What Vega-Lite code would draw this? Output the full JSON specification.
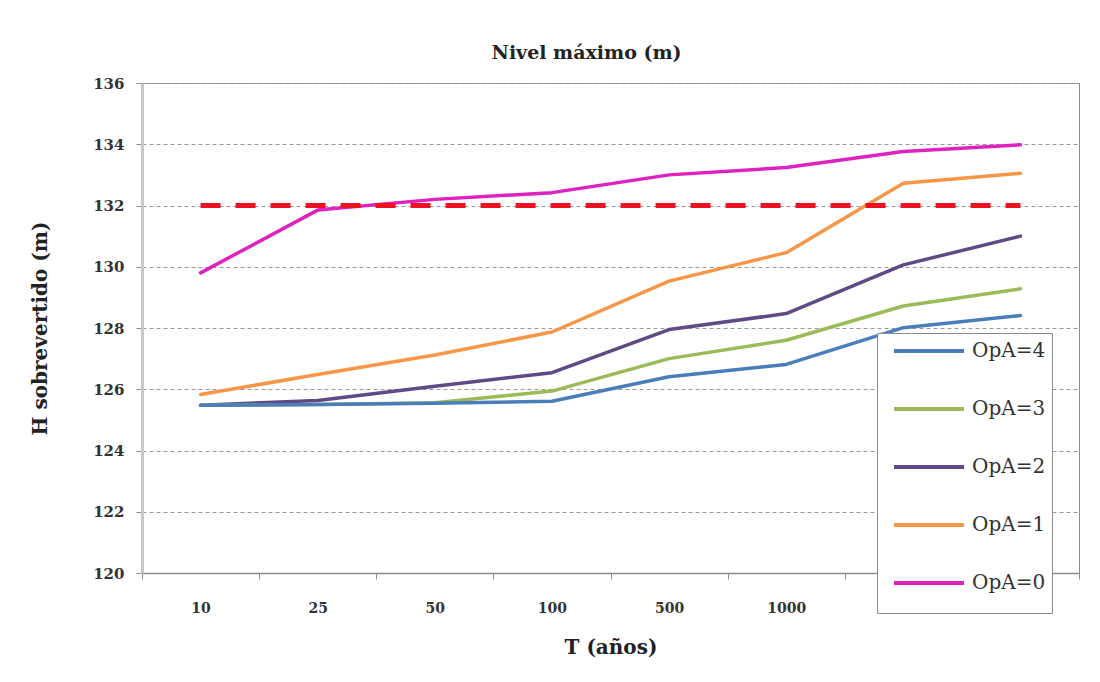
{
  "$schema": "https://vega.github.io/schema/vega-lite/v6.json",
  "autosize": {"type": "none"},
  "width": 937,
  "height": 490,
  "padding": {"left": 142, "top": 83, "right": 21, "bottom": 109},
  "background": "white",
  "title": {
    "text": "Nivel máximo (m)",
    "font": "DejaVu Serif",
    "fontSize": 19,
    "fontWeight": "bold",
    "color": "#222222",
    "anchor": "middle",
    "dx": -24,
    "offset": 13
  },
  "config": {
    "view": {"stroke": "#8c8c8c", "strokeWidth": 1},
    "axis": {"labelFont": "DejaVu Serif", "titleFont": "DejaVu Serif"}
  },
  "datasets": {
    "series": [
      {"T": "10", "OpA": "OpA=0", "H": 129.8},
      {"T": "25", "OpA": "OpA=0", "H": 131.85},
      {"T": "50", "OpA": "OpA=0", "H": 132.2},
      {"T": "100", "OpA": "OpA=0", "H": 132.42},
      {"T": "500", "OpA": "OpA=0", "H": 133.0},
      {"T": "1000", "OpA": "OpA=0", "H": 133.24},
      {"T": "5000", "OpA": "OpA=0", "H": 133.76},
      {"T": "10000", "OpA": "OpA=0", "H": 133.98},
      {"T": "10", "OpA": "OpA=1", "H": 125.83},
      {"T": "25", "OpA": "OpA=1", "H": 126.48},
      {"T": "50", "OpA": "OpA=1", "H": 127.12},
      {"T": "100", "OpA": "OpA=1", "H": 127.87},
      {"T": "500", "OpA": "OpA=1", "H": 129.53},
      {"T": "1000", "OpA": "OpA=1", "H": 130.46},
      {"T": "5000", "OpA": "OpA=1", "H": 132.73},
      {"T": "10000", "OpA": "OpA=1", "H": 133.05},
      {"T": "10", "OpA": "OpA=2", "H": 125.48},
      {"T": "25", "OpA": "OpA=2", "H": 125.63},
      {"T": "50", "OpA": "OpA=2", "H": 126.1},
      {"T": "100", "OpA": "OpA=2", "H": 126.54},
      {"T": "500", "OpA": "OpA=2", "H": 127.95},
      {"T": "1000", "OpA": "OpA=2", "H": 128.47},
      {"T": "5000", "OpA": "OpA=2", "H": 130.06},
      {"T": "10000", "OpA": "OpA=2", "H": 131.0},
      {"T": "10", "OpA": "OpA=3", "H": 125.48},
      {"T": "25", "OpA": "OpA=3", "H": 125.5},
      {"T": "50", "OpA": "OpA=3", "H": 125.56},
      {"T": "100", "OpA": "OpA=3", "H": 125.94},
      {"T": "500", "OpA": "OpA=3", "H": 127.0},
      {"T": "1000", "OpA": "OpA=3", "H": 127.6},
      {"T": "5000", "OpA": "OpA=3", "H": 128.72},
      {"T": "10000", "OpA": "OpA=3", "H": 129.28},
      {"T": "10", "OpA": "OpA=4", "H": 125.48},
      {"T": "25", "OpA": "OpA=4", "H": 125.5},
      {"T": "50", "OpA": "OpA=4", "H": 125.54},
      {"T": "100", "OpA": "OpA=4", "H": 125.61},
      {"T": "500", "OpA": "OpA=4", "H": 126.41},
      {"T": "1000", "OpA": "OpA=4", "H": 126.81},
      {"T": "5000", "OpA": "OpA=4", "H": 128.01},
      {"T": "10000", "OpA": "OpA=4", "H": 128.41}
    ],
    "limit": [
      {"T": "10", "H": 132},
      {"T": "10000", "H": 132}
    ]
  },
  "layer": [
    {
      "data": {"name": "series"},
      "mark": {"type": "line", "strokeWidth": 3.5, "strokeCap": "round", "strokeJoin": "round"},
      "encoding": {
        "x": {
          "field": "T",
          "type": "ordinal",
          "sort": ["10", "25", "50", "100", "500", "1000", "5000", "10000"],
          "bandPosition": 0.5,
          "scale": {"type": "band", "domain": ["10", "25", "50", "100", "500", "1000", "5000", "10000"], "paddingInner": 0, "paddingOuter": 0},
          "axis": {
            "title": "T (años)",
            "titleFontSize": 20,
            "titleFontWeight": "bold",
            "titleColor": "#222222",
            "titleY": 80,
            "titleBaseline": "alphabetic",
            "labelAngle": 0,
            "labelFontSize": 14,
            "labelFontWeight": "bold",
            "labelColor": "#333333",
            "labelPadding": 22,
            "tickBand": "extent",
            "tickSize": 6,
            "tickColor": "#8c8c8c",
            "domainColor": "#8c8c8c",
            "domainWidth": 1.5,
            "grid": false
          }
        },
        "y": {
          "field": "H",
          "type": "quantitative",
          "scale": {"domain": [120, 136], "nice": false, "zero": false},
          "axis": {
            "title": "H sobrevertido (m)",
            "titleFontSize": 20,
            "titleFontWeight": "bold",
            "titleColor": "#222222",
            "titleX": -102,
            "titleY": 245,
            "titleAngle": -90,
            "titleAlign": "center",
            "titleBaseline": "middle",
            "values": [120, 122, 124, 126, 128, 130, 132, 134, 136],
            "labelFontSize": 15,
            "labelFontWeight": "bold",
            "labelColor": "#333333",
            "labelPadding": 12,
            "tickSize": 6,
            "tickColor": "#8c8c8c",
            "domainColor": "#c8c8c8",
            "domainWidth": 3,
            "grid": true,
            "gridColor": "#9a9a9a",
            "gridDash": [4, 3],
            "gridWidth": 1
          }
        },
        "color": {
          "field": "OpA",
          "type": "nominal",
          "scale": {
            "domain": ["OpA=4", "OpA=3", "OpA=2", "OpA=1", "OpA=0"],
            "range": ["#4A7EBB", "#9BBB59", "#5F4A85", "#F79646", "#DD22C0"]
          },
          "legend": {
            "title": "\u00a0",
            "titleOrient": "bottom",
            "titleFontSize": 12,
            "titlePadding": 3,
            "orient": "none",
            "legendX": 735,
            "legendY": 250,
            "symbolType": "M-0.1,0H6.9",
            "symbolStrokeWidth": 4,
            "symbolSize": 400,
            "labelFont": "DejaVu Serif",
            "labelFontSize": 20,
            "labelColor": "#333333",
            "labelOffset": 65,
            "rowPadding": 36,
            "fillColor": "white",
            "strokeColor": "#8c8c8c",
            "padding": 6
          }
        }
      }
    },
    {
      "data": {"name": "limit"},
      "mark": {"type": "line", "color": "#EE1122", "strokeWidth": 5, "strokeDash": [20, 15]},
      "encoding": {
        "x": {"field": "T", "type": "ordinal", "bandPosition": 0.5, "sort": ["10", "25", "50", "100", "500", "1000", "5000", "10000"]},
        "y": {"field": "H", "type": "quantitative"}
      }
    }
  ]
}
